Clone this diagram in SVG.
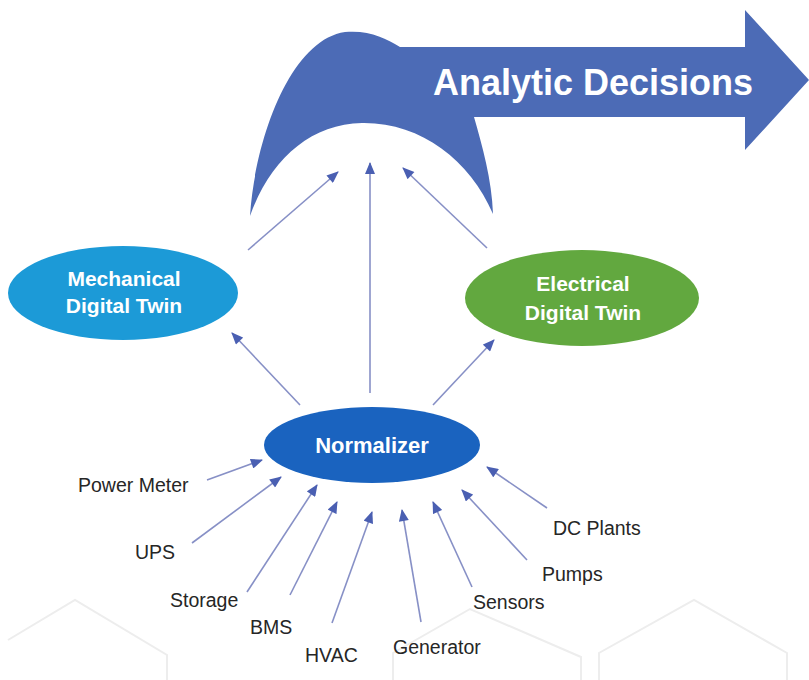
<svg xmlns="http://www.w3.org/2000/svg" width="809" height="680" viewBox="0 0 809 680">
  <defs>
    <marker id="ah" viewBox="0 0 12 10" refX="11" refY="5" markerWidth="13" markerHeight="10" markerUnits="userSpaceOnUse" orient="auto">
      <path d="M0,0 L12,5 L0,10 Z" fill="#4a5fb2"/>
    </marker>
    <style>
      .bg { fill: none; stroke: #ededed; stroke-width: 2; }
      .conn { stroke: #8790c6; stroke-width: 1.6; fill: none; marker-end: url(#ah); }
      .node-t { font-family: "Liberation Sans", Arial, sans-serif; font-weight: bold; fill: #ffffff; text-anchor: middle; }
      .lbl { font-family: "Liberation Sans", Arial, sans-serif; font-size: 19.5px; fill: #262626; }
    </style>
  </defs>
  <rect width="809" height="680" fill="#ffffff"/>

  <g id="background-hexagons">
    <path class="bg" d="M8,640 L75,600 L167,655 L167,680"/>
    <path class="bg" d="M393,680 L393,653 L470,609 L581,657 L581,680"/>
    <path class="bg" d="M599,680 L599,653 L694,600 L787,653 L787,680"/>
  </g>

  <g id="analytic-decisions">
    <path d="M250,216 C255,140 290,40 345,32 C370,30 385,38 400,47 L745,47 L745,10 L809,80 L745,150 L745,117 L474,117 C482,145 492,180 493,214 C470,160 420,122 362,123 C310,124 270,160 250,216 Z" fill="#4c6bb6"/>
    <text class="node-t" x="593" y="95" font-size="36">Analytic Decisions</text>
  </g>

  <g id="mechanical-twin">
    <ellipse cx="123" cy="293" rx="115" ry="47" fill="#1c9ad7"/>
    <text class="node-t" x="124" y="286" font-size="21">Mechanical</text>
    <text class="node-t" x="124" y="313" font-size="21">Digital Twin</text>
  </g>

  <g id="electrical-twin">
    <ellipse cx="582" cy="298" rx="117" ry="48" fill="#62a83f"/>
    <text class="node-t" x="583" y="291" font-size="21">Electrical</text>
    <text class="node-t" x="583" y="320" font-size="21">Digital Twin</text>
  </g>

  <g id="normalizer">
    <ellipse cx="372" cy="445" rx="108" ry="38" fill="#1a63bf"/>
    <text class="node-t" x="372" y="453" font-size="22">Normalizer</text>
  </g>

  <g id="connectors">
    <line class="conn" x1="248" y1="250" x2="338" y2="172"/>
    <line class="conn" x1="370" y1="393" x2="370" y2="163"/>
    <line class="conn" x1="487" y1="248" x2="403" y2="168"/>
    <line class="conn" x1="300" y1="405" x2="232" y2="333"/>
    <line class="conn" x1="433" y1="405" x2="494" y2="340"/>
    <line class="conn" x1="207" y1="480" x2="262" y2="460"/>
    <line class="conn" x1="192" y1="543" x2="281" y2="477"/>
    <line class="conn" x1="247" y1="592" x2="317" y2="485"/>
    <line class="conn" x1="290" y1="595" x2="337" y2="502"/>
    <line class="conn" x1="332" y1="623" x2="372" y2="512"/>
    <line class="conn" x1="421" y1="622" x2="402" y2="510"/>
    <line class="conn" x1="472" y1="587" x2="433" y2="502"/>
    <line class="conn" x1="527" y1="560" x2="462" y2="490"/>
    <line class="conn" x1="547" y1="508" x2="487" y2="467"/>
  </g>

  <g id="source-labels">
    <text class="lbl" x="78" y="492">Power Meter</text>
    <text class="lbl" x="135" y="559">UPS</text>
    <text class="lbl" x="170" y="607">Storage</text>
    <text class="lbl" x="250" y="634">BMS</text>
    <text class="lbl" x="305" y="662">HVAC</text>
    <text class="lbl" x="393" y="654">Generator</text>
    <text class="lbl" x="473" y="609">Sensors</text>
    <text class="lbl" x="542" y="581">Pumps</text>
    <text class="lbl" x="553" y="535">DC Plants</text>
  </g>
</svg>
